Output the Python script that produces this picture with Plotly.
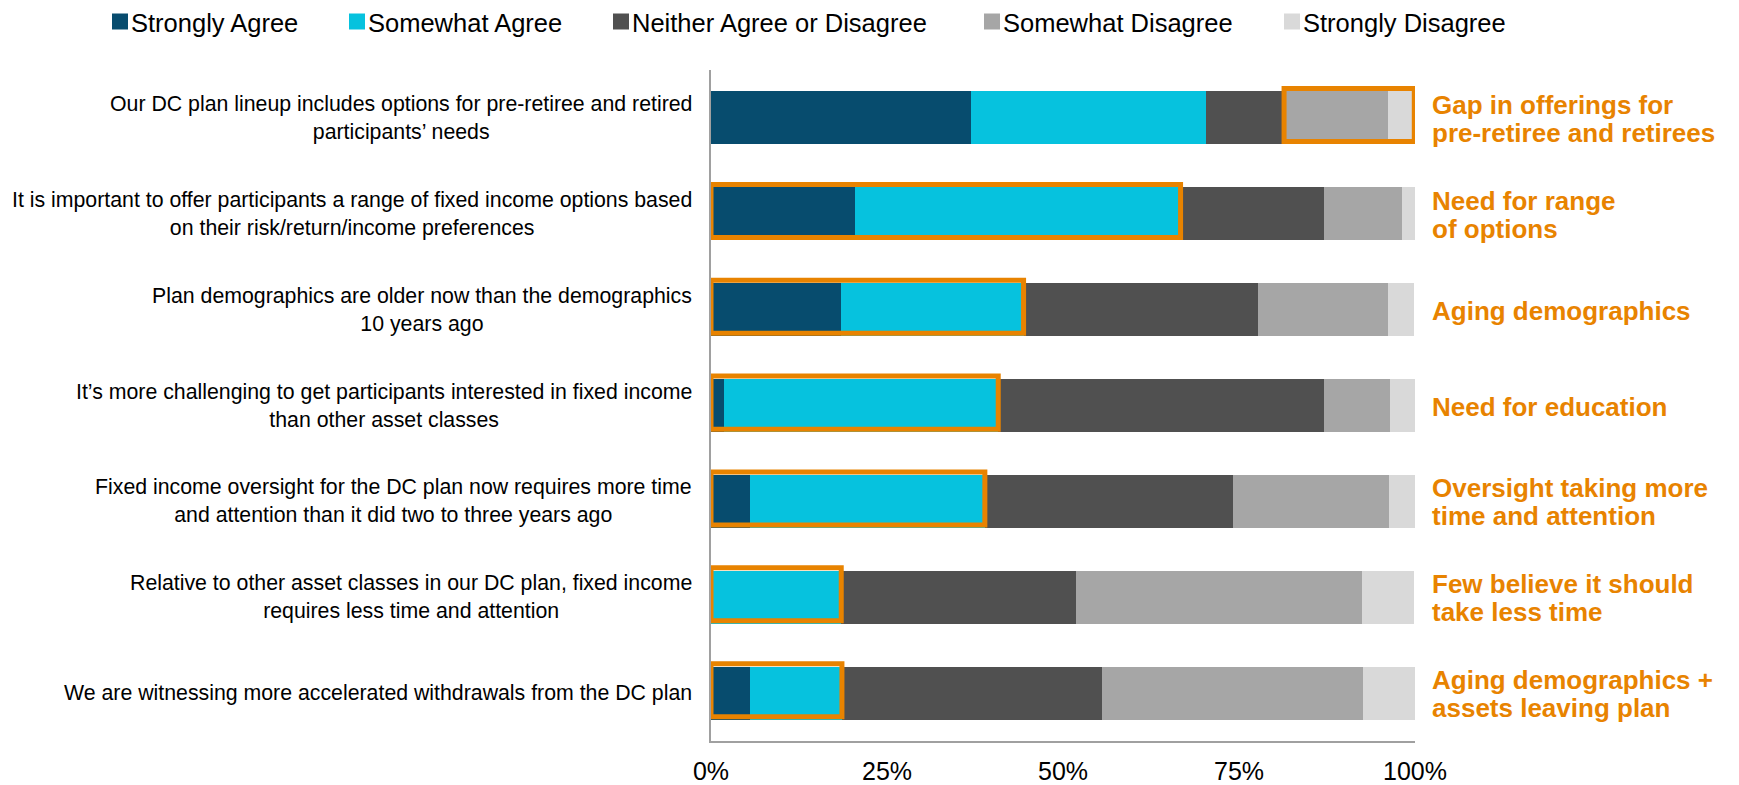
import plotly.graph_objects as go

statements = [
    "Our DC plan lineup includes options for pre-retiree and retired<br>participants\u2019 needs",
    "It is important to offer participants a range of fixed income options based<br>on their risk/return/income preferences",
    "Plan demographics are older now than the demographics<br>10 years ago",
    "It\u2019s more challenging to get participants interested in fixed income<br>than other asset classes",
    "Fixed income oversight for the DC plan now requires more time<br>and attention than it did two to three years ago",
    "Relative to other asset classes in our DC plan, fixed income<br>requires less time and attention",
    "We are witnessing more accelerated withdrawals from the DC plan",
]

series_names = ["Strongly Agree", "Somewhat Agree", "Neither Agree or Disagree",
                "Somewhat Disagree", "Strongly Disagree"]

strongly_agree = [37.0, 20.4, 18.5, 1.9, 5.6, 0.0, 5.6]
somewhat_agree = [33.3, 46.3, 25.9, 38.9, 33.3, 18.5, 13.0]
neither = [11.1, 20.4, 33.3, 46.3, 35.2, 33.3, 37.0]
somewhat_disagree = [14.8, 11.1, 18.5, 9.3, 22.2, 40.7, 37.0]
strongly_disagree = [3.7, 1.9, 3.7, 3.7, 3.7, 7.4, 7.4]

highlight = ["disagree", "agree", "agree", "agree", "agree", "agree", "agree"]

callouts = [
    ["Gap in offerings for", "pre-retiree and retirees"],
    ["Need for range", "of options"],
    ["Aging demographics"],
    ["Need for education"],
    ["Oversight taking more", "time and attention"],
    ["Few believe it should", "take less time"],
    ["Aging demographics +", "assets leaving plan"],
]

tick_vals = [0, 25, 50, 75, 100]
tick_text = ["0%", "25%", "50%", "75%", "100%"]

colors = ["#074C6E", "#06C2DE", "#505050", "#A6A6A6", "#D9D9D9"]
orange = "#E88300"
FONT = "Liberation Sans, Arial, sans-serif"

# page geometry (plot area in page pixels; page has an 8px body margin)
W, H = 1739, 785
PX0, PX1, PY0, PY1 = 711, 1415, 70, 741
BODY = 8


def xp(px):
    return (px - PX0) / (PX1 - PX0)


def yp(py):
    return (PY1 - py) / (PY1 - PY0)


values = [strongly_agree, somewhat_agree, neither, somewhat_disagree, strongly_disagree]
ypos = list(range(len(statements)))

fig = go.Figure()
for name, vals, col in zip(series_names, values, colors):
    fig.add_trace(go.Bar(
        y=ypos, x=vals, name=name, orientation="h",
        marker=dict(color=col, line=dict(width=0)),
        hoverinfo="x+name", showlegend=False,
    ))

bargap = 0.447
half = (1 - bargap) / 2
shapes = []
for i in range(len(statements)):
    if highlight[i] == "agree":
        x0, x1 = 0, strongly_agree[i] + somewhat_agree[i]
    else:
        x0 = strongly_agree[i] + somewhat_agree[i] + neither[i]
        x1 = x0 + somewhat_disagree[i] + strongly_disagree[i]
    shapes.append(dict(type="rect", xref="x", yref="y",
                       x0=x0, x1=x1, y0=i - half - 0.03, y1=i + half - 0.03,
                       line=dict(color=orange, width=5), fillcolor="rgba(0,0,0,0)",
                       layer="above"))

annotations = []

# legend drawn as squares + text
legend_square_left = [112, 349, 613, 984, 1284]
for name, col, sx in zip(series_names, colors, legend_square_left):
    shapes.append(dict(type="rect", xref="paper", yref="paper",
                       x0=xp(sx), x1=xp(sx + 16), y0=yp(29.5), y1=yp(13.5),
                       line=dict(width=0), fillcolor=col))
    annotations.append(dict(xref="paper", yref="paper", x=xp(sx + 18), y=yp(23),
                            text=name, xanchor="left", yanchor="middle", borderpad=0,
                            showarrow=False, font=dict(family=FONT, size=25.5, color="#000000")))

for i, s in enumerate(statements):
    annotations.append(dict(xref="paper", yref="y", x=xp(694), y=i, text=s,
                            xanchor="right", yanchor="middle", align="center",
                            showarrow=False, font=dict(family=FONT, size=21.3, color="#000000")))
for i, lines in enumerate(callouts):
    n = len(lines)
    for j, ln in enumerate(lines):
        shift = (n - 1) / 2 * 28 - j * 28
        annotations.append(dict(xref="paper", yref="y", x=xp(1430), y=i, yshift=shift - 1,
                                text="<b>" + ln + "</b>", xanchor="left", yanchor="middle",
                                align="left", showarrow=False,
                                font=dict(family=FONT, size=26, color=orange)))

fig.update_layout(
    barmode="stack",
    bargap=bargap,
    width=W, height=H,
    margin=dict(l=PX0 - BODY, r=W - PX1 + BODY, t=PY0 - BODY, b=H - PY1 + BODY,
                autoexpand=False),
    paper_bgcolor="white", plot_bgcolor="white",
    font=dict(family=FONT, color="#000000"),
    showlegend=False,
    xaxis=dict(range=[0, 100], tickvals=tick_vals, ticktext=tick_text,
               showgrid=False, zeroline=False, showline=True, linecolor="#A0A0A0",
               linewidth=1.5, ticks="", ticklabelstandoff=7,
               tickfont=dict(family=FONT, size=25, color="#000000")),
    yaxis=dict(range=[len(statements) - 0.5, -0.5], showticklabels=False,
               showgrid=False, zeroline=False, showline=True, linecolor="#A0A0A0",
               linewidth=1.5, ticks=""),
    shapes=shapes,
    annotations=annotations,
)

fig.write_html("out.html")
